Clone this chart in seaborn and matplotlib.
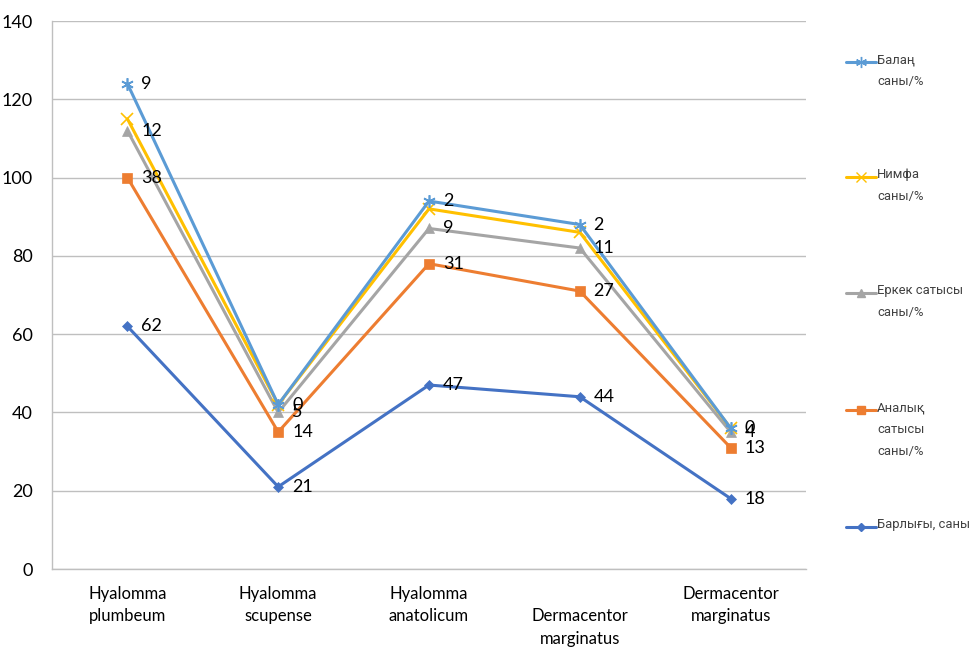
import numpy as np
import pandas as pd
import matplotlib
matplotlib.use("Agg")
import matplotlib.pyplot as plt
from matplotlib import font_manager
from matplotlib.lines import Line2D
import seaborn as sns

categories = ["Hyalomma\nplumbeum", "Hyalomma\nscupense", "Hyalomma\nanatolicum",
              "\nDermacentor\nmarginatus", "Dermacentor\nmarginatus"]

# own values of each series (drawn stacked, bottom to top)
barlygy = [62, 21, 47, 44, 18]
analyk = [38, 14, 31, 27, 13]
erkek = [12, 5, 9, 11, 4]
nimfa = [3, 2, 5, 4, 1]
balan = [9, 0, 2, 2, 0]

series_names = ["Барлығы, саны", "Аналық\nсатысы\nсаны/%", "Еркек сатысы\nсаны/%",
                "Нимфа\nсаны/%", "Балаң\nсаны/%"]
series_values = [barlygy, analyk, erkek, nimfa, balan]
colors = ["#4472C4", "#ED7D31", "#A5A5A5", "#FFC000", "#5B9BD5"]
markers = ["D", "s", "^", "x", (6, 2, 0)]
msizes = [5, 7, 7, 8, 9]
show_labels = [True, True, True, False, True]

sns.set_theme(style="white")
plt.rcParams["font.family"] = ["Lato", "DejaVu Sans"]

# narrow face for the legend text when available
installed = {f.name for f in font_manager.fontManager.ttflist}
if "Liberation Sans Narrow" in installed:
    legend_family, legend_size = ["Liberation Sans Narrow", "DejaVu Sans"], 11.5
else:
    legend_family, legend_size = ["Roboto", "DejaVu Sans"], 9.4

fig = plt.figure(figsize=(9.73, 6.57), dpi=100)
ax = fig.add_axes([52 / 973, 88 / 657, (806 - 52) / 973, (569 - 21) / 657])

x = np.arange(len(categories))
cum = np.zeros(len(categories))
rows = []
for name, vals in zip(series_names, series_values):
    cum = cum + np.array(vals, dtype=float)
    for i, v in enumerate(cum):
        rows.append({"series": name, "x": i, "y": v})
df = pd.DataFrame(rows)

for name, col, mk, ms, lab, vals in zip(series_names, colors, markers, msizes,
                                        show_labels, series_values):
    sub = df[df["series"] == name]
    sns.lineplot(data=sub, x="x", y="y", ax=ax, color=col, linewidth=2.2,
                 marker=mk, markersize=ms, markeredgecolor=col,
                 markeredgewidth=1.2 if mk in ("x",) or isinstance(mk, tuple) else 0.5,
                 legend=False)
    if lab:
        for xi, yi, v in zip(sub["x"], sub["y"], vals):
            ax.annotate(str(v), (xi, yi), xytext=(10, 0), textcoords="offset points",
                        ha="left", va="center", fontsize=13, color="#000000")

ax.set_xlim(-0.5, len(categories) - 0.5)
ax.set_ylim(0, 140)
ax.set_yticks(np.arange(0, 141, 20))
ax.set_xticks(x)
ax.set_xticklabels(categories, fontsize=12, color="#000000", linespacing=1.5)
ax.tick_params(axis="y", labelsize=13, colors="#000000", length=0, pad=14)
ax.tick_params(axis="x", length=0, pad=12)
ax.set_xticks(np.arange(-0.5, len(categories)), minor=True)
ax.tick_params(axis="x", which="minor", length=6, color="#BFBFBF", width=1, direction="out")
ax.set_xlabel("")
ax.set_ylabel("")
ax.grid(axis="y", color="#BFBFBF", linewidth=1)
ax.grid(axis="x", visible=False)
for s in ["top", "right"]:
    ax.spines[s].set_visible(False)
for s in ["left", "bottom"]:
    ax.spines[s].set_color("#BFBFBF")
    ax.spines[s].set_linewidth(1)

# legend entries, top to bottom
leg_y = [62, 177, 293, 410, 527]
for (name, col, mk, ms), ly in zip(
        reversed(list(zip(series_names, colors, markers, msizes))), leg_y):
    yf = 1 - ly / 657
    fig.add_artist(Line2D([846 / 973, 876 / 973], [yf, yf], color=col, linewidth=2.2,
                          transform=fig.transFigure))
    fig.add_artist(Line2D([861 / 973], [yf], color=col, marker=mk, markersize=ms - 1,
                          markeredgecolor=col, linestyle="none",
                          transform=fig.transFigure))
    fig.text(877 / 973, yf + 9 / 657, name, ha="left", va="top", fontsize=legend_size,
             family=legend_family, color="#404040", linespacing=1.9)

fig.savefig("out.png", dpi=100, facecolor="white")
